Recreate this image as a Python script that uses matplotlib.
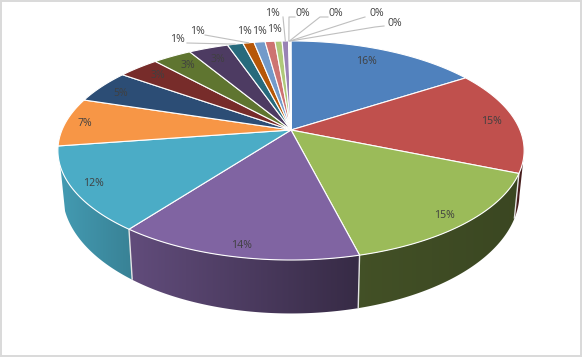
import numpy as np
import matplotlib
matplotlib.use("Agg")
import matplotlib.pyplot as plt
from matplotlib.colors import to_rgb
from matplotlib.patches import Polygon

# ---- data ----
values = [15.9, 15.4, 14.85, 14.25, 12.4, 7.2, 5.0, 3.4, 3.2, 3.3, 1.3, 0.93, 0.92, 0.82, 0.59, 0.54, 0.05, 0.05, 0.05, 0.05]
labels = ["16%", "15%", "15%", "14%", "12%", "7%", "5%", "3%", "3%", "3%", "1%", "1%", "1%", "1%", "1%", "1%", "0%", "0%", "0%", "0%"]
colors = ["#4F81BD", "#C0504D", "#9BBB59", "#8064A2", "#4BACC6", "#F79646", "#2C4D75", "#772C2A", "#5F7530", "#4D3B62",
          "#276A7C", "#B65708", "#729ACA", "#CD7371", "#AFC97A", "#9983B5", "#5F8AC0", "#C86360", "#A4C263", "#8A6FAB"]

# ---- layout (pixels) ----
W, H = 582, 357
label_xy = [(366, 61), (491, 122), (444, 215), (241, 245), (93, 184), (85, 124), (121, 93), (158, 76), (188, 66), (218, 60),
            (177, 39), (197, 32), (244, 32), (259, 31), (274, 30), (272, 13), (303, 13), (336, 14), (377, 14), (395, 23)]
CX, CY = 291, 130
R, S, K = 229.0, 105.7, 0.187


def top_plane(theta):
    u, v = np.sin(theta), np.cos(theta)
    w = 1 + K * v
    return CX + R * u / w, CY - S * v / w


def bottom_plane(theta):
    x, y = top_plane(theta)
    return CX + 0.98 * (x - CX), y + 45 + (y - 172) * 0.096


fig = plt.figure(figsize=(W / 100, H / 100), dpi=100)
ax = fig.add_axes([0, 0, 1, 1])
ax.axis("off")
ax.add_patch(plt.Rectangle((0.7, 0.7), W - 1.4, H - 1.4, fc="white", ec="#D9D9D9", lw=1.4))

total = sum(values)
edges = np.cumsum([0] + values) / total * 2 * np.pi
VIS0, VIS1 = np.radians(102), np.radians(251)
shade_x = [60, 130, 358, 516, 525]
shade_f = [0.90, 0.76, 0.43, 0.38, 0.36]

# walls: horizontal gradient image clipped to the wall outline
for i, (a0, a1) in enumerate(zip(edges[:-1], edges[1:])):
    lo, hi = max(a0, VIS0), min(a1, VIS1)
    if hi <= lo:
        continue
    ts = np.linspace(lo, hi, 80)
    xt, yt = top_plane(ts)
    xb, yb = bottom_plane(ts)
    poly = np.c_[np.r_[xt, xb[::-1]], np.r_[yt, yb[::-1]]]
    clip = Polygon(poly, closed=True, transform=ax.transData, fc="none", ec="none")
    ax.add_patch(clip)
    x0, x1 = poly[:, 0].min() - 1, poly[:, 0].max() + 1
    y0, y1 = poly[:, 1].min() - 1, poly[:, 1].max() + 1
    xs = np.linspace(x0, x1, 256)
    f = np.interp(xs, shade_x, shade_f)
    img = np.outer(f, to_rgb(colors[i])).reshape(1, 256, 3)
    im = ax.imshow(img, extent=(x0, x1, y1, y0), aspect="auto", zorder=2, interpolation="bilinear")
    im.set_clip_path(clip)
    if VIS0 < a0 < VIS1:
        x0, y0 = top_plane(a0)
        x3, y3 = bottom_plane(a0)
        ax.plot([x0, x3], [y0, y3], color="#E4E4E4", lw=1.0, zorder=3, solid_capstyle="butt")

# top faces
for i, (a0, a1) in enumerate(zip(edges[:-1], edges[1:])):
    ts = np.linspace(a0, a1, max(3, int((a1 - a0) * 120)))
    x, y = top_plane(ts)
    ax.fill(np.r_[CX, x], np.r_[CY, y], fc=colors[i], ec="white", lw=0.8, joinstyle="round", zorder=4)

# labels and leaders
font = dict(family="Open Sans", fontsize=7.6, color="#404040", ha="center", va="center", zorder=6)
for lab, (lx, ly) in zip(labels, label_xy):
    ax.text(lx, ly, lab, **font)

mids = (edges[:-1] + edges[1:]) / 2
leaders = {
    10: [(187, 43)],
    11: [(205, 35)],
    15: [(283, 17)],
    16: [(295, 17), (289, 17)],
    17: [(328, 17), (320, 17)],
    18: [(365, 17), (355, 20)],
    19: [(384, 26), (375, 27)],
}
for i, pts in leaders.items():
    rx, ry = top_plane(mids[i])
    xs = [p[0] for p in pts] + [rx]
    ys = [p[1] for p in pts] + [ry]
    ax.plot(xs, ys, color="#BFBFBF", lw=0.8, zorder=5)

ax.set_xlim(0, W)
ax.set_ylim(H, 0)
fig.savefig("out.png", dpi=100)
